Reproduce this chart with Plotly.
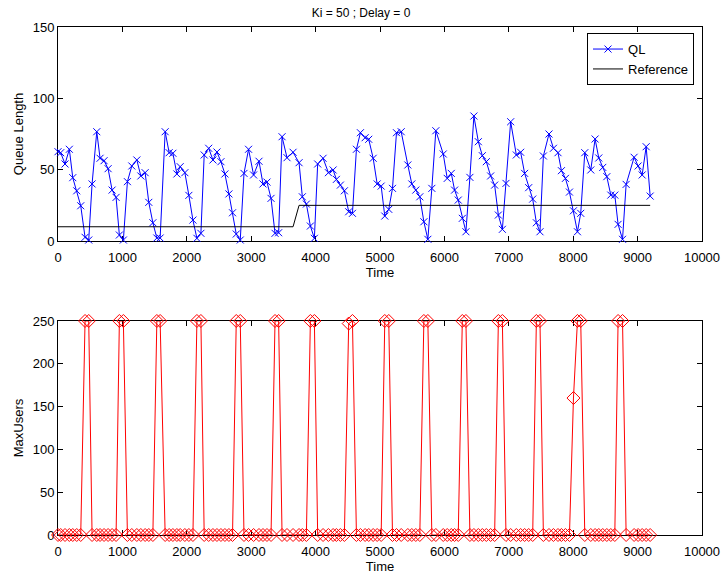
import plotly.graph_objects as go
from plotly.subplots import make_subplots

time = [0, 42, 109, 176, 229, 291, 353, 420, 477, 529, 602, 653, 715, 778, 840, 902, 953, 1015,
        1078, 1146, 1224, 1286, 1353, 1410, 1473, 1535, 1586, 1664, 1726, 1784, 1846, 1897, 1970,
        2032, 2095, 2157, 2219, 2270, 2340, 2406, 2468, 2530, 2592, 2654, 2710, 2768, 2830, 2888,
        2959, 3037, 3121, 3183, 3245, 3308, 3370, 3426, 3479, 3556, 3650, 3743, 3794, 3857, 3919,
        3981, 4032, 4116, 4199, 4272, 4323, 4385, 4447, 4514, 4572, 4634, 4696, 4769, 4825, 4894,
        4956, 5018, 5074, 5136, 5194, 5256, 5329, 5432, 5494, 5556, 5618, 5681, 5743, 5805, 5867,
        5982, 6044, 6107, 6158, 6215, 6278, 6334, 6396, 6458, 6527, 6589, 6651, 6718, 6780, 6838,
        6900, 6956, 7029, 7117, 7184, 7246, 7309, 7371, 7428, 7484, 7537, 7624, 7693, 7764, 7817,
        7879, 7942, 8004, 8066, 8117, 8180, 8273, 8340, 8397, 8459, 8522, 8584, 8646, 8697, 8766,
        8822, 8946, 9008, 9071, 9133, 9195]

ql = [62.6, 61.9, 54, 64.3, 44.4, 35.2, 24.7, 2.6, 0.7, 40, 76.6, 58, 56.3, 50.7, 35.7, 30.6, 4.2,
      0.7, 41.6, 52.6, 56.8, 45.6, 47.9, 27.1, 12.8, 2.1, 2.1, 76.6, 61.9, 61.5, 47, 52.1, 47.9,
      32, 14.7, 1.9, 5.4, 60.3, 65, 56.8, 62.4, 55.6, 47, 33, 19.8, 4.9, 0.7, 47.4, 64.3, 46.3,
      55.9, 40, 41.3, 29.9, 5.4, 5.8, 73.1, 58.4, 62.2, 54.9, 31, 25.9, 10.5, 1.9, 54, 58, 47.9,
      49.8, 43.2, 39.2, 35.2, 20.5, 19.4, 64.3, 75.9, 72.4, 71.3, 58, 40, 38.5, 17.5, 22.2, 36.9,
      75.9, 76.6, 53.3, 40, 35.7, 31, 13.5, 1.2, 36.9, 77.3, 61, 43.9, 47.4, 35.7, 28.7, 15.9,
      6.5, 44.6, 87.6, 69.6, 59.8, 55.6, 45.6, 39.2, 18.2, 8.2, 40.4, 83.6, 60.3, 62.2, 47.4,
      37.4, 29.4, 12.8, 6.5, 59.6, 75, 65, 61.9, 49.3, 43.9, 34.3, 21.2, 6.5, 19.4, 61.9, 49.8,
      71.5, 58.2, 51.6, 45.1, 32.2, 32.2, 11.7, 1.2, 39.7, 58.7, 52.6, 46.3, 66.1, 31.5]

ref_time = [0, 3650, 3743, 9195]
ref_value = [10, 10, 25, 25]

max_users = [0, 0, 0, 0, 0, 0, 0, 250, 250, 0, 0, 0, 0, 0, 0, 0, 250, 250, 0, 0, 0, 0, 0, 0, 0,
             250, 250, 0, 0, 0, 0, 0, 0, 0, 0, 250, 250, 0, 0, 0, 0, 0, 0, 0, 0, 250, 250, 0, 0,
             0, 0, 0, 0, 0, 250, 250, 0, 0, 0, 0, 0, 0, 250, 250, 0, 0, 0, 0, 0, 0, 0, 247, 250,
             0, 0, 0, 0, 0, 0, 0, 250, 250, 0, 0, 0, 0, 0, 0, 0, 250, 250, 0, 0, 0, 0, 0, 0, 0,
             250, 250, 0, 0, 0, 0, 0, 0, 0, 250, 250, 0, 0, 0, 0, 0, 0, 0, 250, 250, 0, 0, 0, 0,
             0, 0, 0, 160, 250, 250, 0, 0, 0, 0, 0, 0, 0, 0, 250, 250, 0, 0, 0, 0, 0, 0]

x_ticks = list(range(0, 10001, 1000))
x_tick_text = [str(v) for v in x_ticks]
FONT = "Liberation Sans, Arial, Helvetica, sans-serif"

fig = make_subplots(rows=2, cols=1, vertical_spacing=0.0)

fig.add_trace(go.Scatter(x=time, y=ql, mode="lines+markers", name="QL", cliponaxis=False,
                         line=dict(color="#0000ff", width=1),
                         marker=dict(symbol="x-thin-open", size=7,
                                     line=dict(color="#0000ff", width=1))),
              row=1, col=1)
fig.add_trace(go.Scatter(x=ref_time, y=ref_value, mode="lines", name="Reference",
                         line=dict(color="#000000", width=1)),
              row=1, col=1)
fig.add_trace(go.Scatter(x=time, y=max_users, mode="lines+markers", name="MaxUsers",
                         showlegend=False, cliponaxis=False,
                         line=dict(color="#ff0000", width=1),
                         marker=dict(symbol="diamond-open", size=10, color="#ff0000",
                                     line=dict(color="#ff0000", width=1))),
              row=2, col=1)

axis_common = dict(showline=True, linecolor="black", linewidth=1, mirror="ticks",
                   ticks="inside", ticklen=5, tickcolor="black", showgrid=False,
                   zeroline=False, automargin=False, layer="below traces",
                   tickfont=dict(size=13, color="black", family=FONT))

fig.update_xaxes(range=[0, 10000], tickmode="array", tickvals=x_ticks, ticktext=x_tick_text,
                 ticklabelstandoff=4, **axis_common)
fig.update_xaxes(title=dict(text="Time", font=dict(size=13, family=FONT), standoff=1), row=1, col=1)
fig.update_xaxes(title=dict(text="Time", font=dict(size=13, family=FONT), standoff=1), row=2, col=1)
fig.update_yaxes(range=[0, 150], tickvals=[0, 50, 100, 150],
                 title=dict(text="Queue Length", font=dict(size=13, family=FONT), standoff=6),
                 row=1, col=1, **axis_common)
fig.update_yaxes(range=[0, 250], tickvals=[0, 50, 100, 150, 200, 250],
                 title=dict(text="MaxUsers", font=dict(size=13, family=FONT), standoff=6),
                 row=2, col=1, **axis_common)

fig.update_layout(
    width=722, height=574,
    margin=dict(l=58, r=20, t=27, b=39, autoexpand=False),
    paper_bgcolor="white", plot_bgcolor="white",
    font=dict(family=FONT, color="black", size=13),
    title=dict(text="Ki = 50 ; Delay = 0", x=0.5, xanchor="center", y=0.985, yanchor="top",
               font=dict(size=12, family=FONT, color="black")),
    xaxis=dict(domain=[0, 1]),
    yaxis=dict(domain=[0.5787, 1]),
    xaxis2=dict(domain=[0, 1]),
    yaxis2=dict(domain=[0, 0.4213]),
    legend=dict(x=0.9876, xanchor="right", y=0.988, yanchor="top",
                bgcolor="white", bordercolor="black", borderwidth=1,
                font=dict(size=13, family=FONT, color="black"),
                tracegroupgap=0, itemwidth=30),
    showlegend=True,
)

fig.write_html("out.html")
